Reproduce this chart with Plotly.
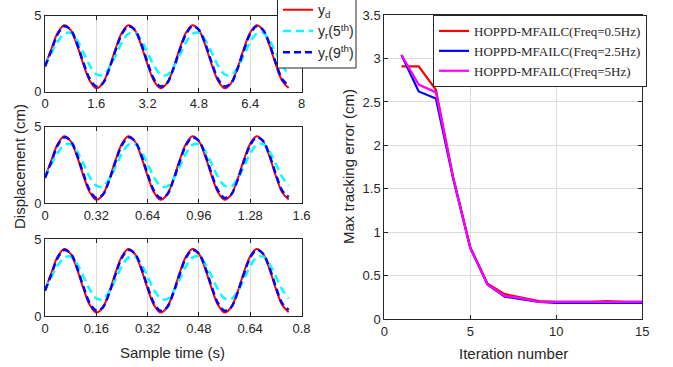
import plotly.graph_objects as go

W, H = 673, 367

# ---------------- data: left panels (sample time vs displacement) ----------------
t_p1 = [0, 0.2, 0.4, 0.6, 0.8, 1.0, 1.2, 1.4, 1.6, 1.8, 2.0, 2.2, 2.4, 2.6, 2.8, 3.0, 3.2, 3.4, 3.6, 3.8,
        4.0, 4.2, 4.4, 4.6, 4.8, 5.0, 5.2, 5.4, 5.6, 5.8, 6.0, 6.2, 6.4, 6.6, 6.8, 7.0, 7.2, 7.4, 7.6]
t_p2 = [0, 0.04, 0.08, 0.12, 0.16, 0.2, 0.24, 0.28, 0.32, 0.36, 0.4, 0.44, 0.48, 0.52, 0.56, 0.6, 0.64, 0.68,
        0.72, 0.76, 0.8, 0.84, 0.88, 0.92, 0.96, 1.0, 1.04, 1.08, 1.12, 1.16, 1.2, 1.24, 1.28, 1.32, 1.36, 1.4,
        1.44, 1.48, 1.52]
t_p3 = [0, 0.02, 0.04, 0.06, 0.08, 0.1, 0.12, 0.14, 0.16, 0.18, 0.2, 0.22, 0.24, 0.26, 0.28, 0.3, 0.32, 0.34,
        0.36, 0.38, 0.4, 0.42, 0.44, 0.46, 0.48, 0.5, 0.52, 0.54, 0.56, 0.58, 0.6, 0.62, 0.64, 0.66, 0.68, 0.7,
        0.72, 0.74, 0.76]

y_desired = [1.7, 2.82, 3.89, 4.37, 4.05, 3.06, 1.78, 0.71, 0.23, 0.55,
             1.54, 2.82, 3.89, 4.37, 4.05, 3.06, 1.78, 0.71, 0.23, 0.55,
             1.54, 2.82, 3.89, 4.37, 4.05, 3.06, 1.78, 0.71, 0.23, 0.55,
             1.54, 2.82, 3.89, 4.37, 4.05, 3.06, 1.78, 0.71, 0.25]
y_iter5 = [1.72, 2.55, 3.3, 3.8, 3.87, 3.39, 2.57, 1.71, 1.15, 1.09,
           1.57, 2.39, 3.25, 3.81, 3.87, 3.39, 2.57, 1.71, 1.15, 1.09,
           1.57, 2.39, 3.25, 3.81, 3.87, 3.39, 2.57, 1.71, 1.15, 1.09,
           1.57, 2.39, 3.25, 3.81, 3.87, 3.39, 2.57, 1.71, 1.15]
y_iter9 = [1.65, 2.72, 3.8, 4.3, 4.07, 3.15, 1.9, 0.82, 0.35, 0.55,
           1.48, 2.72, 3.8, 4.3, 4.07, 3.15, 1.9, 0.82, 0.35, 0.55,
           1.48, 2.72, 3.8, 4.3, 4.07, 3.15, 1.9, 0.82, 0.35, 0.55,
           1.48, 2.72, 3.8, 4.3, 4.07, 3.15, 1.9, 0.82, 0.4]

ticks_p1 = [0, 1.6, 3.2, 4.8, 6.4, 8]
ticks_p2 = [0, 0.32, 0.64, 0.96, 1.28, 1.6]
ticks_p3 = [0, 0.16, 0.32, 0.48, 0.64, 0.8]
ticklabels_p1 = ["0", "1.6", "3.2", "4.8", "6.4", "8"]
ticklabels_p2 = ["0", "0.32", "0.64", "0.96", "1.28", "1.6"]
ticklabels_p3 = ["0", "0.16", "0.32", "0.48", "0.64", "0.8"]

# ---------------- data: right panel (iteration vs max tracking error) ----------------
iterations = [1, 2, 3, 4, 5, 6, 7, 8, 9, 10, 11, 12, 13, 14, 15]
err_05hz = [2.91, 2.91, 2.64, 1.64, 0.83, 0.41, 0.29, 0.25, 0.21, 0.20, 0.20, 0.20, 0.21, 0.20, 0.20]
err_25hz = [3.04, 2.62, 2.54, 1.62, 0.82, 0.40, 0.26, 0.23, 0.20, 0.19, 0.19, 0.19, 0.19, 0.19, 0.19]
err_5hz = [3.04, 2.70, 2.61, 1.63, 0.82, 0.40, 0.27, 0.24, 0.20, 0.20, 0.20, 0.20, 0.20, 0.20, 0.20]

names_left = ["y<sub>d</sub>", "y<sub>r</sub>(5<sup>th</sup>)", "y<sub>r</sub>(9<sup>th</sup>)"]
names_right = ["HOPPD-MFAILC(Freq=0.5Hz)", "HOPPD-MFAILC(Freq=2.5Hz)", "HOPPD-MFAILC(Freq=5Hz)"]

# ---------------- figure ----------------
def px_x(p):
    return p / W

def px_y(p):
    return 1 - p / H

fig = go.Figure()

panels = [(t_p1, "x", "y"), (t_p2, "x2", "y2"), (t_p3, "x3", "y3")]
for i, (t, xa, ya) in enumerate(panels):
    show = i == 0
    fig.add_trace(go.Scatter(x=t, y=y_desired, xaxis=xa, yaxis=ya, mode="lines",
                             line=dict(color="#ff0000", width=2, shape="spline"),
                             name=names_left[0], showlegend=show, legend="legend"))
    fig.add_trace(go.Scatter(x=t, y=y_iter5, xaxis=xa, yaxis=ya, mode="lines",
                             line=dict(color="#00ffff", width=2.5, dash="8px,5px", shape="spline"),
                             name=names_left[1], showlegend=show, legend="legend"))
    fig.add_trace(go.Scatter(x=t, y=y_iter9, xaxis=xa, yaxis=ya, mode="lines",
                             line=dict(color="#0000ff", width=2.5, dash="7px,4px", shape="spline"),
                             name=names_left[2], showlegend=show, legend="legend"))

for ys, c, n in [(err_05hz, "#ff0000", names_right[0]),
                 (err_25hz, "#0000ff", names_right[1]),
                 (err_5hz, "#ff00ff", names_right[2])]:
    fig.add_trace(go.Scatter(x=iterations, y=ys, xaxis="x4", yaxis="y4", mode="lines",
                             line=dict(color=c, width=2.2), name=n, legend="legend2"))

tick_font = dict(family="Liberation Sans, Arial, sans-serif", size=13, color="#262626")
axis_common = dict(showline=True, linecolor="#262626", linewidth=1, mirror="ticks",
                   ticks="inside", ticklen=4, tickcolor="#262626", tickfont=tick_font,
                   zeroline=False, gridcolor="#dcdcdc", gridwidth=1, fixedrange=True)

left_x = [px_x(45), px_x(301.5)]
rows = [(15.7, 91.7), (126.7, 203.3), (239.3, 316)]

layout = dict(width=W, height=H, margin=dict(l=0, r=0, t=0, b=0, autoexpand=False),
              paper_bgcolor="white", plot_bgcolor="white",
              font=dict(family="Liberation Sans, Arial, sans-serif", color="#262626"))

tick_sets = [(ticks_p1, ticklabels_p1, [0, 8]), (ticks_p2, ticklabels_p2, [0, 1.6]),
             (ticks_p3, ticklabels_p3, [0, 0.8])]
for i, ((tv, tt, rng), (top, bot)) in enumerate(zip(tick_sets, rows)):
    sfx = "" if i == 0 else str(i + 1)
    layout["xaxis" + sfx] = dict(axis_common, domain=left_x, range=rng, tickvals=tv, ticktext=tt,
                                 showgrid=True, anchor="y" + sfx)
    layout["yaxis" + sfx] = dict(axis_common, domain=[px_y(bot), px_y(top)], range=[0, 5],
                                 tickvals=[0, 5], showgrid=False, anchor="x" + sfx)

layout["xaxis4"] = dict(axis_common, domain=[px_x(384.3), px_x(642.3)], range=[0, 15],
                        tickvals=[0, 5, 10, 15], showgrid=True, anchor="y4")
layout["yaxis4"] = dict(axis_common, domain=[px_y(319.3), px_y(15)], range=[0, 3.5],
                        tickvals=[0, 0.5, 1, 1.5, 2, 2.5, 3, 3.5],
                        ticktext=["0", "0.5", "1", "1.5", "2", "2.5", "3", "3.5"],
                        showgrid=True, anchor="x4")

layout["legend"] = dict(x=px_x(278), xanchor="left", y=1.016, yanchor="top",
                        bgcolor="rgba(0,0,0,0)", borderwidth=0, tracegroupgap=0,
                        font=dict(family="Liberation Sans, Arial, sans-serif", size=14, color="#262626"))
layout["legend2"] = dict(x=px_x(433), xanchor="left", y=px_y(15), yanchor="top",
                         bgcolor="white", bordercolor="#262626", borderwidth=1, tracegroupgap=0,
                         font=dict(family="Liberation Serif, Times New Roman, serif", size=13, color="#262626"))

layout["shapes"] = [dict(type="rect", xref="paper", yref="paper", layer="above",
                         x0=px_x(277.5), x1=px_x(356), y0=px_y(68), y1=1.05,
                         fillcolor="white", line=dict(color="#262626", width=1))]

title_font = dict(family="Liberation Sans, Arial, sans-serif", size=15, color="#262626")
layout["annotations"] = [
    dict(text="Displacement (cm)", xref="paper", yref="paper", x=px_x(20), y=px_y(167),
         textangle=-90, showarrow=False, font=title_font, xanchor="center", yanchor="middle"),
    dict(text="Sample time (s)", xref="paper", yref="paper", x=px_x(173), y=px_y(352),
         showarrow=False, font=title_font, xanchor="center", yanchor="middle"),
    dict(text="Max tracking error (cm)", xref="paper", yref="paper", x=px_x(349), y=px_y(167),
         textangle=-90, showarrow=False, font=title_font, xanchor="center", yanchor="middle"),
    dict(text="Iteration number", xref="paper", yref="paper", x=px_x(513), y=px_y(353),
         showarrow=False, font=title_font, xanchor="center", yanchor="middle"),
]

fig.update_layout(**layout)
fig.write_html("out.html")
